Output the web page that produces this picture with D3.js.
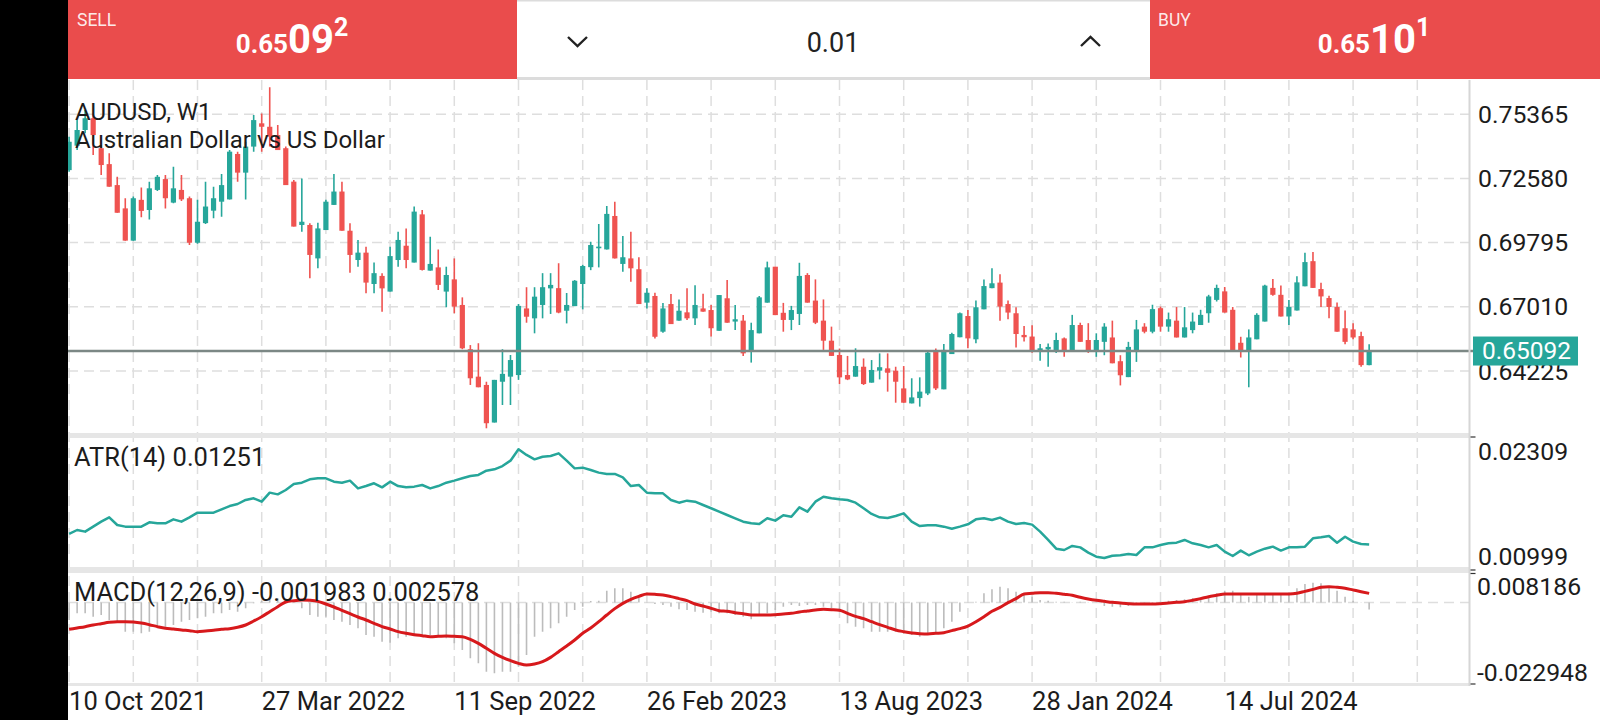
<!DOCTYPE html>
<html><head><meta charset="utf-8">
<script src="https://cdn.jsdelivr.net/npm/d3@7"></script>
<style>
body{margin:0;background:#fff;overflow:hidden}
svg{display:block;font-family:Roboto,"Noto Sans",sans-serif}
</style>
</head><body>
<svg id="c" width="1600" height="720"></svg>
<script>
// ---------- DATA (weekly AUDUSD, week index 0 = 10 Oct 2021) ----------
const openP = [.7294,.7400,.7468,.7519,.7389,.7320,.7229,.7128,.6988,.7165,.7121,.7208,.7255,.7153,.7208,.7172,.6979,.7064,.7118,.7157,
.7167,.7364,.7283,.7396,.7497,.7482,.7446,.7389,.7244,.7056,.7056,.6911,.7034,.7143,.7201,.7031,.6904,.6936,.6800,.6835,
.6767,.6904,.6966,.6893,.7102,.6858,.6872,.6767,.6820,.6709,.6517,.6398,.6362,.6199,.6376,.6398,.6405,.6694,.6651,.6709,
.6781,.6782,.6684,.6704,.6800,.6873,.6955,.6950,.7095,.6887,.6911,.6864,.6719,.6748,.6593,.6713,.6641,.6677,.6651,.6694,
.6687,.6597,.6738,.6637,.6641,.6506,.6586,.6719,.6875,.6675,.6644,.6670,.6839,.6728,.6641,.6554,.6492,.6405,.6398,.6441,
.6372,.6424,.6434,.6424,.6347,.6282,.6305,.6325,.6506,.6343,.6496,.6569,.6661,.6560,.6690,.6782,.6806,.6713,.6673,.6579,
.6572,.6506,.6516,.6513,.6564,.6505,.6622,.6557,.6505,.6549,.6568,.6465,.6396,.6505,.6615,.6593,.6695,.6615,.6641,.6568,
.6600,.6622,.6673,.6731,.6768,.6688,.6545,.6505,.6560,.6637,.6783,.6753,.6659,.6685,.6790,.6899,.6778,.6739,.6700,.6608,
.6603,.6574,.6448];
const highP = [.7439,.7511,.7555,.7540,.7403,.7367,.7265,.7172,.7179,.7219,.7244,.7273,.7273,.7309,.7273,.7179,.7165,.7244,.7222,.7277,
.7381,.7374,.7417,.7533,.7540,.7653,.7490,.7396,.7251,.7258,.7064,.7066,.7165,.7277,.7244,.7064,.6991,.6962,.6893,.6847,
.6962,.7027,.7041,.7136,.7121,.7005,.6950,.6875,.6911,.6742,.6535,.6543,.6376,.6384,.6517,.6492,.6713,.6786,.6786,.6847,
.6847,.6890,.6761,.6817,.6883,.6983,.7060,.7138,.7157,.7008,.7027,.6916,.6781,.6762,.6718,.6757,.6733,.6782,.6795,.6758,
.6709,.6752,.6817,.6709,.6665,.6632,.6748,.6897,.6875,.6718,.6705,.6892,.6847,.6820,.6733,.6615,.6520,.6488,.6521,.6477,
.6470,.6499,.6499,.6441,.6444,.6391,.6395,.6506,.6520,.6540,.6589,.6676,.6687,.6728,.6820,.6868,.6842,.6728,.6699,.6618,
.6621,.6540,.6542,.6589,.6568,.6666,.6632,.6630,.6586,.6630,.6641,.6491,.6549,.6644,.6630,.6710,.6702,.6676,.6700,.6700,
.6676,.6688,.6753,.6797,.6787,.6700,.6571,.6603,.6673,.6797,.6822,.6793,.6731,.6834,.6936,.6939,.6805,.6749,.6720,.6685,
.6630,.6593,.6539];
const lowP = [.7287,.7381,.7454,.7360,.7273,.7222,.7109,.6988,.6988,.7089,.7080,.7203,.7128,.7150,.7160,.6969,.6975,.7060,.7085,.7092,
.7167,.7244,.7167,.7374,.7374,.7396,.7381,.7229,.7049,.7027,.6825,.6868,.7034,.7143,.7031,.6849,.6875,.6760,.6760,.6680,
.6767,.6875,.6868,.6893,.6858,.6858,.6774,.6699,.6673,.6517,.6362,.6352,.6174,.6199,.6275,.6275,.6384,.6632,.6586,.6651,
.6670,.6673,.6629,.6704,.6690,.6860,.6872,.6950,.6911,.6853,.6810,.6713,.6694,.6564,.6589,.6626,.6641,.6644,.6622,.6680,
.6572,.6597,.6632,.6600,.6488,.6459,.6586,.6719,.6665,.6593,.6600,.6622,.6719,.6626,.6514,.6488,.6366,.6383,.6398,.6362,
.6372,.6386,.6333,.6285,.6285,.6282,.6268,.6318,.6340,.6343,.6496,.6569,.6521,.6543,.6690,.6782,.6641,.6647,.6525,.6550,
.6502,.6467,.6441,.6501,.6484,.6505,.6549,.6501,.6484,.6491,.6456,.6360,.6396,.6462,.6586,.6586,.6593,.6593,.6568,.6568,
.6586,.6622,.6632,.6724,.6676,.6513,.6481,.6352,.6560,.6637,.6749,.6659,.6622,.6685,.6790,.6783,.6700,.6651,.6593,.6539,
.6560,.6441,.6448];
const closeP = [.7417,.7468,.7519,.7446,.7316,.7222,.7109,.6988,.7172,.7117,.7215,.7265,.7172,.7215,.7167,.6979,.7070,.7136,.7172,.7229,
.7374,.7283,.7396,.7511,.7482,.7439,.7381,.7229,.7049,.7070,.6926,.7041,.7157,.7201,.7031,.6926,.6936,.6806,.6847,.6781,
.6921,.6991,.6904,.7114,.6861,.6887,.6796,.6839,.6702,.6521,.6391,.6352,.6196,.6384,.6410,.6470,.6705,.6658,.6745,.6786,
.6796,.6676,.6709,.6814,.6878,.6969,.6962,.7104,.6911,.6916,.6868,.6713,.6762,.6571,.6694,.6626,.6684,.6651,.6709,.6680,
.6608,.6752,.6632,.6647,.6499,.6600,.6742,.6872,.6665,.6644,.6687,.6835,.6719,.6632,.6554,.6488,.6395,.6386,.6444,.6366,
.6427,.6439,.6415,.6376,.6285,.6308,.6333,.6502,.6347,.6514,.6583,.6673,.6564,.6699,.6791,.6803,.6702,.6676,.6583,.6569,
.6506,.6521,.6527,.6557,.6505,.6622,.6549,.6505,.6557,.6615,.6456,.6404,.6527,.6603,.6593,.6691,.6615,.6647,.6568,.6612,
.6637,.6666,.6746,.6783,.6676,.6513,.6505,.6568,.6666,.6793,.6753,.6659,.6700,.6807,.6895,.6783,.6746,.6700,.6593,.6549,
.6568,.6448,.65092];
const atr14 = [.01354,.01393,.01377,.01426,.01475,.01518,.01442,.01426,.01426,.01426,.01469,.01459,.01459,.01498,.01475,.01518,.01564,.01564,.01564,.01597,
.01629,.01649,.01689,.01705,.01672,.01761,.01744,.01787,.01846,.01859,.01892,.01902,.01902,.01869,.01859,.01879,.01803,.01826,.01853,.01813,
.01869,.01826,.01813,.01820,.01836,.01803,.01826,.01859,.01879,.01902,.01925,.01935,.01977,.01991,.02023,.02076,.02188,.02132,.02089,.02115,
.02122,.02148,.02076,.02000,.02007,.01984,.01958,.01945,.01945,.01912,.01826,.01836,.01761,.01754,.01754,.01689,.01662,.01682,.01672,.01639,
.01607,.01574,.01541,.01508,.01475,.01459,.01452,.01508,.01485,.01538,.01524,.01616,.01574,.01672,.01721,.01705,.01695,.01689,.01662,.01607,
.01551,.01518,.01511,.01531,.01557,.01475,.01432,.01439,.01439,.01426,.01406,.01426,.01449,.01498,.01508,.01491,.01515,.01475,.01452,.01462,
.01446,.01377,.01295,.01209,.01196,.01236,.01222,.01170,.01130,.01117,.01140,.01144,.01157,.01147,.01222,.01222,.01245,.01262,.01268,.01295,
.01262,.01245,.01222,.01245,.01180,.01137,.01190,.01144,.01180,.01209,.01229,.01190,.01222,.01222,.01229,.01311,.01321,.01334,.01268,.01327,
.01278,.01255,.01251];
const macdMain = [-.00492,-.00304,-.00304,-.00398,-.00351,-.00492,-.00539,-.00820,-.00820,-.00867,-.00820,-.00726,-.00679,-.00633,-.00539,-.00492,-.00445,-.00398,-.00304,-.00304,
-.00210,-.00257,-.00163,-.00022,.00053,.00091,.00119,.00119,.00053,-.00163,-.00351,-.00398,-.00398,-.00492,-.00539,-.00633,-.00726,-.00914,-.00961,-.01102,
-.01130,-.01008,-.00961,-.00914,-.00914,-.00914,-.00914,-.01008,-.01149,-.01337,-.01572,-.01713,-.01947,-.01994,-.01947,-.01947,-.01807,-.01478,-.00961,-.00820,
-.00726,-.00586,-.00398,-.00210,-.00116,.00044,.00053,.00335,.00401,.00401,.00307,.00166,.00006,-.00041,-.00069,-.00116,-.00191,-.00210,-.00257,-.00285,
-.00257,-.00304,-.00304,-.00351,-.00398,-.00473,-.00351,-.00304,-.00210,-.00116,-.00069,-.00097,-.00069,-.00069,-.00116,-.00163,-.00257,-.00586,-.00679,-.00726,
-.00820,-.00820,-.00820,-.00820,-.00867,-.00914,-.00961,-.00914,-.00867,-.00726,-.00539,-.00257,-.00003,.00025,.00260,.00373,.00448,.00401,.00307,.00241,
.00166,.00072,.00053,.00025,.00025,.00006,.00025,.00006,-.00003,-.00097,-.00116,-.00135,-.00097,-.00069,-.00041,-.00022,.00025,.00053,.00072,.00091,
.00119,.00147,.00166,.00260,.00335,.00335,.00213,.00166,.00241,.00241,.00260,.00260,.00241,.00401,.00523,.00560,.00541,.00466,.00335,.00166,
.00053,-.00003,-.001983];
const macdSignal = [-.00755,-.00717,-.00679,-.00633,-.00595,-.00557,-.00539,-.00539,-.00548,-.00576,-.00623,-.00679,-.00726,-.00745,-.00773,-.00792,-.00820,-.00802,-.00783,-.00755,
-.00736,-.00698,-.00633,-.00520,-.00398,-.00257,-.00116,.00016,.00053,.00072,.00063,.00034,-.00041,-.00125,-.00219,-.00313,-.00407,-.00492,-.00586,-.00679,
-.00745,-.00820,-.00867,-.00905,-.00933,-.00961,-.00952,-.00942,-.00952,-.00961,-.01036,-.01149,-.01290,-.01431,-.01544,-.01637,-.01713,-.01760,-.01731,-.01666,
-.01544,-.01384,-.01224,-.01055,-.00867,-.00717,-.00539,-.00351,-.00172,-.00022,.00091,.00175,.00241,.00232,.00213,.00166,.00110,.00053,-.00041,-.00097,
-.00163,-.00229,-.00247,-.00285,-.00313,-.00351,-.00351,-.00351,-.00341,-.00323,-.00304,-.00266,-.00238,-.00210,-.00191,-.00200,-.00219,-.00304,-.00388,-.00454,
-.00539,-.00623,-.00698,-.00773,-.00820,-.00858,-.00877,-.00886,-.00867,-.00848,-.00792,-.00736,-.00661,-.00539,-.00398,-.00247,-.00135,-.00003,.00110,.00241,
.00260,.00279,.00279,.00260,.00232,.00203,.00147,.00100,.00063,.00034,.00006,-.00013,-.00031,-.00041,-.00041,-.00041,-.00031,-.00013,.00006,.00025,
.00063,.00110,.00166,.00203,.00241,.00241,.00241,.00241,.00241,.00241,.00241,.00241,.00241,.00260,.00316,.00372,.00429,.00448,.00429,.00401,
.00354,.00307,.002578];
const dateLabels = ["10 Oct 2021","27 Mar 2022","11 Sep 2022","26 Feb 2023","13 Aug 2023","28 Jan 2024","14 Jul 2024"];
const dateLabelWeek = [0,24,48,72,96,120,144];
const priceTicks = [0.75365,0.72580,0.69795,0.67010,0.64225];
const atrLabels = ["0.02309","0.00999"];
const macdLabels = ["0.008186","-0.022948"];
const currentPrice = 0.65092;
const sellQuote = ["0.65","09","2"];
const buyQuote = ["0.65","10","1"];
const lotSize = "0.01";

// ---------- LAYOUT ----------
const svg = d3.select("#c");
const L = 68, AX = 1469.5;
const TEAL = "#26a69a", RED = "#ef5350", BAR = "#ea4c4c", INK = "#1c1c1c", GRID = "#dedede";
const FS_AXIS = 24.8, FS_IND = 25.5, FS_TITLE = 24;

const x = d3.scaleLinear().domain([0, 168]).range([69.1, 69.1 + 168 * 8.025]);
const y = d3.scaleLinear().domain([0.61449, 0.76849]).range([435, 80]);
const yAtr = d3.scaleLinear().domain([0.00999, 0.02309]).range([570, 437]);
const yMacd = d3.scaleLinear().domain([-0.022948, 0.008186]).range([684, 573.5]);

const defs = svg.append("defs");
defs.append("clipPath").attr("id","cpMain").append("rect").attr("x",L).attr("y",80).attr("width",AX-L).attr("height",353);
defs.append("clipPath").attr("id","cpAtr").append("rect").attr("x",L).attr("y",438).attr("width",AX-L).attr("height",130);
defs.append("clipPath").attr("id","cpMacd").append("rect").attr("x",L).attr("y",573).attr("width",AX-L).attr("height",110);

// vertical dashed grid (every 8 weeks)
const gridWeeks = d3.range(0, 169, 8);
svg.append("g").selectAll("line").data(gridWeeks).join("line")
  .attr("x1", d => x(d)).attr("x2", d => x(d)).attr("y1", 80).attr("y2", 684)
  .attr("stroke", GRID).attr("stroke-width", 1.5).attr("stroke-dasharray", "10,6");

// horizontal price grid
svg.append("g").selectAll("line").data(priceTicks).join("line")
  .attr("x1", L).attr("x2", AX).attr("y1", d => y(d)).attr("y2", d => y(d))
  .attr("stroke", GRID).attr("stroke-width", 1.5).attr("stroke-dasharray", "10,6");

// MACD zero line
svg.append("line").attr("x1", L).attr("x2", AX).attr("y1", yMacd(0)).attr("y2", yMacd(0))
  .attr("stroke", GRID).attr("stroke-width", 1.5).attr("stroke-dasharray", "10,6");

// panel separators
[[433,5],[567,6],[683,3]].forEach(([yy,h]) => {
  svg.append("rect").attr("x", L).attr("y", yy).attr("width", AX - L).attr("height", h).attr("fill", "#e6e6e6");
});

// candles
const idx = d3.range(openP.length);
const gC = svg.append("g").attr("clip-path","url(#cpMain)");
gC.selectAll("line.w").data(idx).join("line").attr("class","w")
  .attr("x1", i => x(i)).attr("x2", i => x(i))
  .attr("y1", i => y(highP[i])).attr("y2", i => y(lowP[i]))
  .attr("stroke", i => closeP[i] >= openP[i] ? TEAL : RED).attr("stroke-width", 1.6);
gC.selectAll("rect.b").data(idx).join("rect").attr("class","b")
  .attr("x", i => x(i) - 2.6).attr("width", 5.2)
  .attr("y", i => y(Math.max(openP[i], closeP[i])))
  .attr("height", i => Math.max(1.5, Math.abs(y(openP[i]) - y(closeP[i]))))
  .attr("fill", i => closeP[i] >= openP[i] ? TEAL : RED);

// current price line
svg.append("line").attr("x1", L).attr("x2", AX + 4).attr("y1", y(currentPrice)).attr("y2", y(currentPrice))
  .attr("stroke", "#7c8885").attr("stroke-width", 2.5);

// ATR line
svg.append("path").datum(idx).attr("clip-path","url(#cpAtr)")
  .attr("d", d3.line().x(i => x(i)).y(i => yAtr(atr14[i])))
  .attr("fill","none").attr("stroke", TEAL).attr("stroke-width", 2.5).attr("stroke-linejoin","round");

// MACD histogram + signal
const gM = svg.append("g").attr("clip-path","url(#cpMacd)");
gM.selectAll("line").data(idx).join("line")
  .attr("x1", i => x(i)).attr("x2", i => x(i))
  .attr("y1", yMacd(0)).attr("y2", i => yMacd(macdMain[i]))
  .attr("stroke", "#bcbcbc").attr("stroke-width", 1.6);
gM.append("path").datum(idx)
  .attr("d", d3.line().x(i => x(i)).y(i => yMacd(macdSignal[i])).curve(d3.curveMonotoneX))
  .attr("fill","none").attr("stroke", "#d7191c").attr("stroke-width", 3);

// right axis line
svg.append("line").attr("x1", AX).attr("x2", AX).attr("y1", 80).attr("y2", 686)
  .attr("stroke", "#d6d6d6").attr("stroke-width", 2);
[437, 570, 573.5, 684].forEach(yy => svg.append("line").attr("x1", AX + 1).attr("x2", AX + 6)
  .attr("y1", yy).attr("y2", yy).attr("stroke", "#333").attr("stroke-width", 1.2));

// price axis labels
svg.append("g").selectAll("text").data(priceTicks).join("text")
  .attr("x", 1478).attr("y", d => y(d)).attr("dy", "0.35em")
  .attr("font-size", FS_AXIS).attr("fill", INK).text(d => d.toFixed(5));

// current price label (drawn over the axis, as in the terminal)
svg.append("rect").attr("x", 1473).attr("y", y(currentPrice) - 14.5).attr("width", 105).attr("height", 29).attr("fill", TEAL);
svg.append("text").attr("x", 1482).attr("y", y(currentPrice)).attr("dy", "0.33em")
  .attr("font-size", 24.5).attr("fill", "#fff").text(currentPrice.toFixed(5));

// ATR / MACD scale labels
svg.append("text").attr("x", 1478).attr("y", 451.7).attr("dy","0.35em").attr("font-size", FS_AXIS).attr("fill", INK).text(atrLabels[0]);
svg.append("text").attr("x", 1478).attr("y", 556.7).attr("dy","0.35em").attr("font-size", FS_AXIS).attr("fill", INK).text(atrLabels[1]);
svg.append("text").attr("x", 1477).attr("y", 586).attr("dy","0.35em").attr("font-size", FS_AXIS).attr("fill", INK).text(macdLabels[0]);
svg.append("text").attr("x", 1477).attr("y", 672.5).attr("dy","0.35em").attr("font-size", FS_AXIS).attr("fill", INK).text(macdLabels[1]);

// date labels
svg.append("g").selectAll("text").data(dateLabels).join("text")
  .attr("x", (d, k) => x(dateLabelWeek[k])).attr("y", 710)
  .attr("font-size", FS_IND).attr("fill", INK).text(d => d);

// titles
svg.append("text").attr("x", 75).attr("y", 120).attr("font-size", FS_TITLE).attr("fill", INK).text("AUDUSD, W1");
svg.append("text").attr("x", 75).attr("y", 148).attr("font-size", FS_TITLE).attr("fill", INK).text("Australian Dollar vs US Dollar");
svg.append("text").attr("x", 74).attr("y", 466).attr("font-size", FS_IND).attr("fill", INK)
  .text("ATR(14) " + atr14[atr14.length - 1].toFixed(5));
svg.append("text").attr("x", 74).attr("y", 601).attr("font-size", FS_IND).attr("fill", INK)
  .text("MACD(12,26,9) " + macdMain[macdMain.length - 1].toFixed(6) + " " + macdSignal[macdSignal.length - 1].toFixed(6));

// ---------- TOP BAR ----------
svg.append("rect").attr("x", 0).attr("y", 0).attr("width", L).attr("height", 720).attr("fill", "#000");
svg.append("rect").attr("x", L).attr("y", 0).attr("width", 517 - L).attr("height", 79).attr("fill", BAR);
svg.append("rect").attr("x", 517).attr("y", 0).attr("width", 633).attr("height", 79).attr("fill", "#fff");
svg.append("rect").attr("x", 517).attr("y", 0).attr("width", 633).attr("height", 1.5).attr("fill", "#dcdcdc");
svg.append("rect").attr("x", 517).attr("y", 77).attr("width", 633).attr("height", 3).attr("fill", "#dcdcdc");
svg.append("rect").attr("x", 1150).attr("y", 0).attr("width", 450).attr("height", 79).attr("fill", BAR);

function quote(cx, label, parts, lx) {
  svg.append("text").attr("x", lx).attr("y", 26).attr("font-size", 17.5).attr("fill", "rgba(255,255,255,0.9)").text(label);
  const t = svg.append("text").attr("x", cx).attr("y", 53).attr("text-anchor", "middle")
    .attr("fill", "#fff").attr("font-weight", "bold");
  t.append("tspan").attr("font-size", 26).text(parts[0]);
  t.append("tspan").attr("font-size", 40).text(parts[1]);
  t.append("tspan").attr("font-size", 25).attr("dy", -17).text(parts[2]);
}
quote(292, "SELL", sellQuote, 77);
quote(1374, "BUY", buyQuote, 1158);

svg.append("text").attr("x", 833).attr("y", 52).attr("text-anchor", "middle").attr("font-size", 27).attr("fill", "#222").text(lotSize);
svg.append("path").attr("d", "M568,37 L577.5,46 L587,37").attr("fill","none").attr("stroke","#222").attr("stroke-width",2.4);
svg.append("path").attr("d", "M1081,46 L1090.5,37 L1100,46").attr("fill","none").attr("stroke","#222").attr("stroke-width",2.4);
</script>
</body></html>
